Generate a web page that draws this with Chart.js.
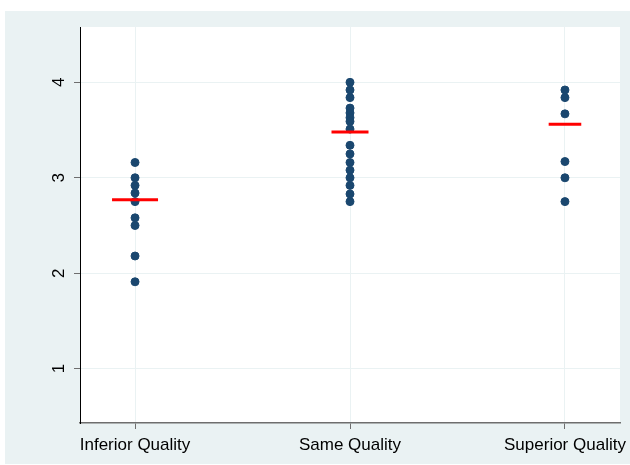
<!DOCTYPE html>
<html>
<head>
<meta charset="utf-8">
<script src="https://cdn.jsdelivr.net/npm/chart.js@4/dist/chart.umd.min.js"></script>
<style>
  html, body { margin: 0; padding: 0; background: #fff; }
  #wrap { width: 630px; height: 465px; }
</style>
</head>
<body>
<div id="wrap"><canvas id="dotplot" width="630" height="465"></canvas></div>
<script>
// categories and values
const categories = ['Inferior Quality', 'Same Quality', 'Superior Quality'];
const inferior = [3.16, 3.0, 2.92, 2.84, 2.75, 2.58, 2.5, 2.18, 1.91];
const same = [4.0, 3.92, 3.84, 3.73, 3.68, 3.63, 3.59, 3.51, 3.34, 3.25, 3.16, 3.08, 3.0, 2.92, 2.83, 2.75];
const superior = [3.92, 3.84, 3.67, 3.17, 3.0, 2.75];
const means = [2.77, 3.48, 3.56];
const yTicks = [1, 2, 3, 4];

const groups = [inferior, same, superior];
const dots = [];
groups.forEach((vals, i) => {
    vals.forEach(v => dots.push({ x: i + 1, y: v }));
});
const meanPts = means.map((m, i) => ({ x: i + 1, y: m }));

// stata-ish background: outer panel + white plot region
const bgPlugin = {
    id: 'bg',
    beforeDraw(chart) {
        const c = chart.ctx, a = chart.chartArea;
        c.save();
        c.fillStyle = '#eaf2f3';
        c.fillRect(5, 11, 625, 453);
        c.fillStyle = '#ffffff';
        c.fillRect(a.left, a.top, a.right - a.left, a.bottom - a.top);
        c.restore();
    }
};

const ctx = document.getElementById('dotplot').getContext('2d');
new Chart(ctx, {
    type: 'scatter',
    data: {
        datasets: [{
            label: 'mean',
            data: meanPts,
            pointStyle: 'line',
            pointRadius: [23, 18.5, 16.3],
            pointBorderWidth: 3,
            borderColor: '#ff0000',
            backgroundColor: '#ff0000',
            order: 0
        }, {
            label: 'score',
            data: dots,
            pointRadius: 4,
            pointBorderWidth: 1,
            borderColor: '#1a476f',
            backgroundColor: '#1a476f',
            order: 1
        }]
    },
    options: {
        responsive: false,
        animation: false,
        layout: { autoPadding: false, padding: { top: 27, right: 10, left: 0, bottom: 0 } },
        plugins: {
            legend: { display: false },
            tooltip: { enabled: false }
        },
        scales: {
            x: {
                type: 'linear',
                min: 0.744,
                max: 3.256,
                afterBuildTicks: s => { s.ticks = categories.map((c, i) => ({ value: i + 1 })); },
                afterFit: s => { s.height = 42; s.paddingLeft = 0; s.paddingRight = 0; },
                ticks: {
                    color: '#000',
                    font: { family: 'Liberation Sans', size: 17 },
                    padding: 6,
                    maxRotation: 0,
                    callback: v => categories[v - 1]
                },
                grid: { color: '#eaf2f3', lineWidth: 1, tickColor: '#6e6e6e', tickLength: 6 },
                border: { color: '#6e6e6e', width: 1.5 }
            },
            y: {
                min: 0.43,
                max: 4.58,
                afterBuildTicks: s => { s.ticks = yTicks.map(v => ({ value: v })); },
                afterFit: s => { s.width = 80; s.paddingTop = 0; s.paddingBottom = 0; },
                ticks: {
                    color: '#000',
                    font: { family: 'Liberation Sans', size: 17 },
                    minRotation: 90,
                    maxRotation: 90,
                    crossAlign: 'center',
                    padding: 10
                },
                grid: { color: '#eaf2f3', lineWidth: 1, tickColor: '#6e6e6e', tickLength: 6 },
                border: { color: '#000000', width: 1 }
            }
        }
    },
    plugins: [bgPlugin]
});
</script>
</body>
</html>
